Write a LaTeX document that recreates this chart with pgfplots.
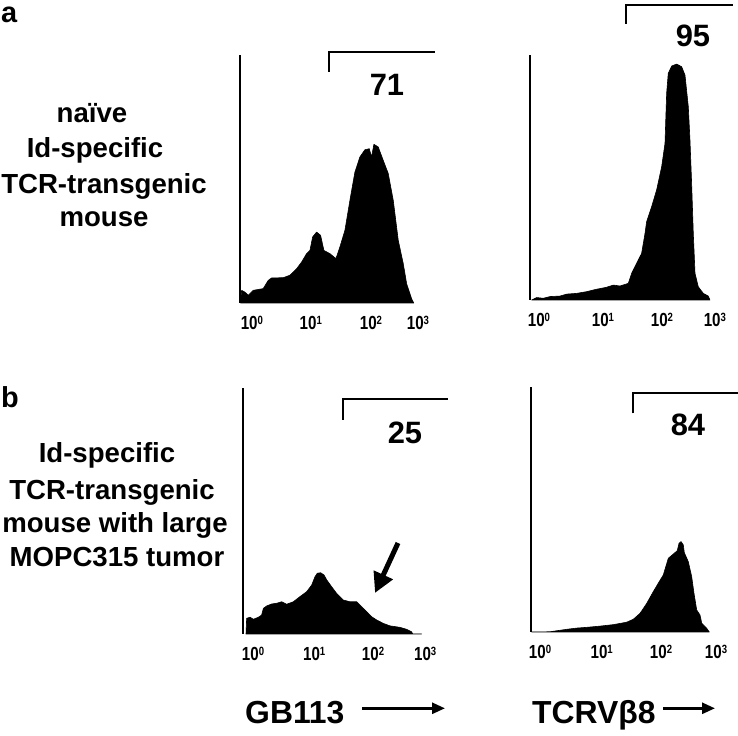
\documentclass[border=0pt]{standalone}
\usepackage{fontspec}
\setmainfont{Liberation Sans}
\usepackage{graphicx}
\usepackage{pgfplots}
\pgfplotsset{compat=1.18}
\usetikzlibrary{arrows.meta}

% decade tick label, narrow like the original
\newcommand\dec[1]{\scalebox{0.8}[1]{10\raisebox{5pt}{\fontsize{12}{12}\selectfont #1}}}

\pgfplotsset{
  facs/.style={
    scale only axis, anchor=south west,
    ymin=0, ymax=100,
    axis x line*=bottom, axis y line*=left,
    x axis line style={draw=none},
    y axis line style={line width=2bp},
    ytick=\empty,
    xtick style={draw=none},
    major tick length=0pt,
    xticklabels={\dec{0},\dec{1},\dec{2},\dec{3}},
    xticklabel style={anchor=base, yshift=-26.5bp, inner sep=0pt,
      font=\bfseries\fontsize{19}{19}\selectfont},
    clip=false,
  },
  hist/.style={fill=black, draw=black, line width=0.6bp, line join=round},
}

\begin{document}
\begin{tikzpicture}
\useasboundingbox (0,0) rectangle (738bp,736bp);

% a: GB113
\begin{axis}[facs, at={(240bp,433bp)}, width=181.5bp, height=248bp,
  xmin=-0.2, xmax=2.85, xtick={0,0.99,2,2.79}]
\addplot[hist] coordinates {
 (-0.19,0) (-0.173,5.1) (-0.118,4.4) (-0.062,3.1) (0.022,5.1) (0.19,5.8)
 (0.274,9.1) (0.331,10.1) (0.527,10.2) (0.639,11.2) (0.751,13.8) (0.835,16.5)
 (0.919,19.9) (0.975,21.2) (1.02,26.6) (1.087,28.6) (1.154,27.3) (1.21,21.2)
 (1.311,19.9) (1.412,17.9) (1.479,22.6) (1.563,29.3) (1.647,41.4) (1.731,52.8)
 (1.815,58.9) (1.899,61.8) (1.972,62.2) (2.011,58.9) (2.05,64.0) (2.123,62.9)
 (2.207,57.5) (2.291,52.2) (2.375,41.4) (2.459,25.3) (2.543,15.9) (2.6,7.8)
 (2.684,1.7) (2.72,0)
} \closedcycle;
\end{axis}

% a: TCRVb8
\begin{axis}[facs, at={(530bp,436bp)}, width=190.4bp, height=245bp,
  xmin=-0.146, xmax=2.95, xtick={0,1.04,2,2.86}]
\addplot[hist] coordinates {
 (-0.119,0) (-0.038,1.0) (0.070,0.7) (0.179,1.4) (0.341,1.6) (0.450,2.4)
 (0.612,2.7) (0.775,3.4) (0.938,4.4) (1.100,5.2) (1.209,6.1) (1.317,5.7)
 (1.453,6.8) (1.507,10.9) (1.588,15.0) (1.669,19.0) (1.724,27.2) (1.751,32.0)
 (1.832,38.1) (1.913,44.9) (1.995,54.4) (2.049,63.9) (2.076,84.4) (2.102,92.5)
 (2.158,95.5) (2.239,96.3) (2.320,95.2) (2.374,91.8) (2.428,78.9) (2.455,65.3)
 (2.482,47.6) (2.509,27.2) (2.537,10.9) (2.590,5.4) (2.672,2.7) (2.753,1.6)
 (2.780,0)
} \closedcycle;
\end{axis}

% b: GB113
\begin{axis}[facs, at={(243bp,102bp)}, width=187bp, height=246bp,
  xmin=-0.167, xmax=2.95, xtick={0,1.02,2,2.87}]
\addplot[hist] coordinates {
 (-0.117,0) (-0.106,6.4) (-0.05,6.8) (0.006,6.0) (0.089,6.8) (0.144,7.7)
 (0.172,10.4) (0.228,11.4) (0.311,12.2) (0.394,12.5) (0.478,13.1) (0.561,12.1)
 (0.672,13.1) (0.783,15.2) (0.894,17.2) (0.978,19.9) (1.033,23.3) (1.072,24.7)
 (1.128,24.9) (1.183,24.0) (1.228,22.0) (1.311,19.2) (1.394,16.5) (1.506,13.8)
 (1.617,13.1) (1.728,13.1) (1.811,11.1) (1.894,9.1) (1.978,7.0) (2.061,5.7)
 (2.172,4.3) (2.283,3.3) (2.45,2.7) (2.561,1.9) (2.644,0.9) (2.661,0) (2.811,0)
} \closedcycle;
\end{axis}

% b: TCRVb8
\begin{axis}[facs, at={(531bp,104bp)}, width=190.5bp, height=245bp,
  xmin=-0.149, xmax=3.0, xtick={0,1.02,2,2.91}]
\addplot[hist] coordinates {
 (-0.137,0) (0.165,0.1) (0.441,1.1) (0.607,1.6) (0.772,1.9) (0.992,2.4)
 (1.212,3.0) (1.433,4.0) (1.542,5.2) (1.653,7.6) (1.764,11.7) (1.873,16.5)
 (1.955,19.9) (2.038,23.3) (2.121,30.1) (2.203,31.8) (2.269,33.2) (2.298,36.2)
 (2.331,36.9) (2.369,35.5) (2.385,32.4) (2.451,28.7) (2.507,22.6) (2.545,15.8)
 (2.590,9.0) (2.645,6.9) (2.673,3.6) (2.755,1.5) (2.798,0)
} \closedcycle;
\end{axis}

% annotations, in pixel coordinates of the original (y down)
\begin{scope}[x=1bp, y=-1bp, yshift=736bp, every node/.style={inner sep=0pt}]
  % gates
  \draw[line width=2bp] (329,72) -- (329,51.7) -- (435,51.7);
  \draw[line width=2bp] (626,24) -- (626,5) -- (733,5);
  \draw[line width=2bp] (343,420) -- (343,399.3) -- (448,399.3);
  \draw[line width=2bp] (633,413.3) -- (633,393.3) -- (738,393.3);
  \node[anchor=base, font=\bfseries\fontsize{31}{31}\selectfont] at (387,96) {71};
  \node[anchor=base, font=\bfseries\fontsize{31}{31}\selectfont] at (693,46.7) {95};
  \node[anchor=base, font=\bfseries\fontsize{31}{31}\selectfont] at (405,444) {25};
  \node[anchor=base, font=\bfseries\fontsize{31}{31}\selectfont] at (688,436) {84};
  % arrow in panel b
  \draw[line width=5bp, -{Triangle[length=20bp,width=20bp]}] (398,543) -- (375,593);
  % panel letters
  \node[anchor=base west, font=\bfseries\fontsize{29}{29}\selectfont] at (1,23) {a};
  \node[anchor=base west, font=\bfseries\fontsize{29}{29}\selectfont] at (1,408) {b};
  % row descriptions
  \begin{scope}[every node/.append style={anchor=base, font=\bfseries\fontsize{27.7}{30}\selectfont}]
    \node at (92,123) {naïve};
    \node at (95,158) {Id-specific};
    \node at (104,194) {TCR-transgenic};
    \node at (104,227) {mouse};
    \node at (107,463) {Id-specific};
    \node at (112,500) {TCR-transgenic};
    \node at (115,533) {mouse with large};
    \node at (117,567) {MOPC315 tumor};
  \end{scope}
  % axis titles
  \node[anchor=base west, font=\bfseries\fontsize{32}{32}\selectfont] at (245,723.3) {GB113};
  \draw[line width=2.7bp, -{Triangle[length=13bp,width=11bp]}] (362,708.3) -- (445,708.3);
  \node[anchor=base west, font=\bfseries\fontsize{32}{32}\selectfont] at (532,723.3) {TCRVβ8};
  \draw[line width=2.7bp, -{Triangle[length=13bp,width=11bp]}] (663,708.3) -- (715,708.3);
\end{scope}
\end{tikzpicture}
\end{document}
